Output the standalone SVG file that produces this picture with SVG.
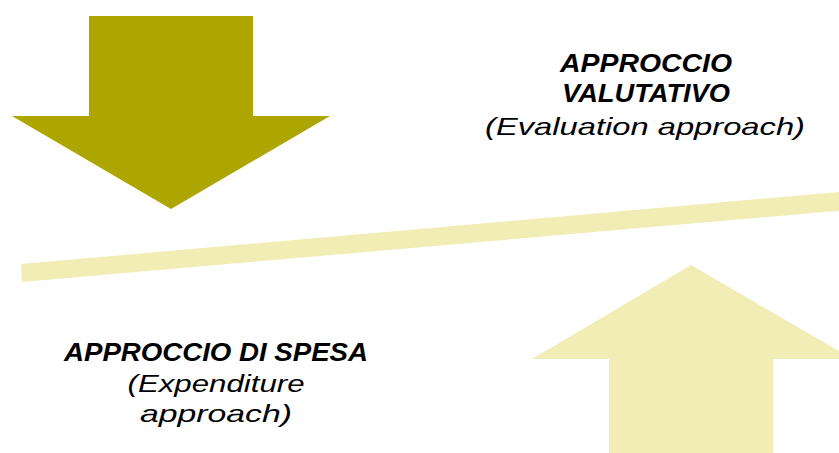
<svg xmlns="http://www.w3.org/2000/svg" width="839" height="453" viewBox="0 0 839 453">
<style>
.t{font-family:"Liberation Sans",Arial,sans-serif;font-style:italic;font-size:24px;fill:#000;text-anchor:middle}
.b{font-weight:bold;font-size:25px}
</style>
<rect width="839" height="453" fill="#fff"/>
<g id="down-arrow"><polygon points="89,16 253,16 253,116 330,116 171,209 12,116 89,116" fill="#ADA600"/></g>
<g id="beam"><polygon points="21,264 839,192 839,210.7 22,282" fill="#F2EDB5"/></g>
<g id="up-arrow"><polygon points="691,265 839,351 839,359 773,359 773,453 609,453 609,359 532,359" fill="#F2EDB5"/></g>
<g id="label-valutativo">
<text class="t b" x="646" y="72" textLength="172" lengthAdjust="spacingAndGlyphs">APPROCCIO</text>
<text class="t b" x="646" y="102" textLength="168" lengthAdjust="spacingAndGlyphs">VALUTATIVO</text>
<text class="t" x="645" y="135" textLength="320" lengthAdjust="spacingAndGlyphs">(Evaluation approach)</text>
</g>
<g id="label-spesa">
<text class="t b" x="216" y="361" textLength="304" lengthAdjust="spacingAndGlyphs">APPROCCIO DI SPESA</text>
<text class="t" x="216" y="392" textLength="177" lengthAdjust="spacingAndGlyphs">(Expenditure</text>
<text class="t" x="216" y="422" textLength="152" lengthAdjust="spacingAndGlyphs">approach)</text>
</g>
<g id="connectors"/>
</svg>
